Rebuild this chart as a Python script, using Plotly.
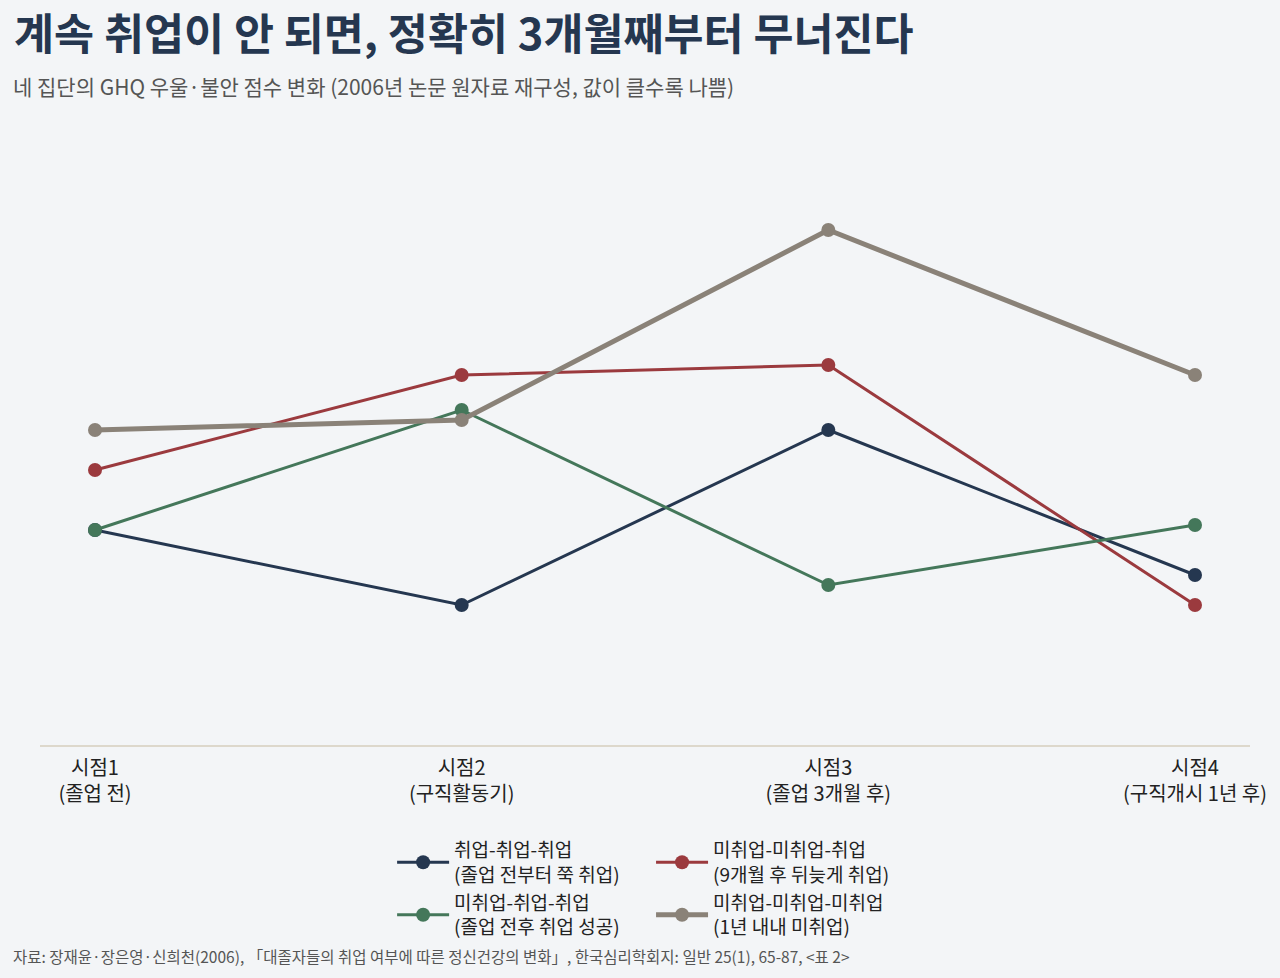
import plotly.graph_objects as go

# 시점 라벨
x_labels = ["시점1<br>(졸업 전)", "시점2<br>(구직활동기)", "시점3<br>(졸업 3개월 후)", "시점4<br>(구직개시 1년 후)"]

# 집단별 GHQ 점수 (그림에서 읽은 추정값)
group_names = [
    "취업-취업-취업<br>(졸업 전부터 쭉 취업)",
    "미취업-미취업-취업<br>(9개월 후 뒤늦게 취업)",
    "미취업-취업-취업<br>(졸업 전후 취업 성공)",
    "미취업-미취업-미취업<br>(1년 내내 미취업)",
]
ghq_emp_emp_emp = [1.43, 1.28, 1.63, 1.34]
ghq_un_un_emp = [1.55, 1.74, 1.76, 1.28]
ghq_un_emp_emp = [1.43, 1.67, 1.32, 1.44]
ghq_un_un_un = [1.63, 1.65, 2.03, 1.74]

colors = ["#253750", "#9b3a3e", "#44775a", "#8a8278"]
widths = [3, 3, 3, 5]
legends = ["legend", "legend2", "legend", "legend2"]
series = [ghq_emp_emp_emp, ghq_un_un_emp, ghq_un_emp_emp, ghq_un_un_un]

fig = go.Figure()
for name, vals, c, w, lg in zip(group_names, series, colors, widths, legends):
    fig.add_trace(go.Scatter(
        x=x_labels, y=vals, name=name, mode="lines+markers",
        line=dict(color=c, width=w),
        marker=dict(color=c, size=14),
        legend=lg,
    ))

legend_style = dict(
    orientation="v", yanchor="top", y=-0.140, xanchor="left",
    font=dict(size=19, color="#222222"), bgcolor="rgba(0,0,0,0)",
    tracegroupgap=2, itemwidth=52,
)

fig.update_layout(
    width=1280, height=978,
    paper_bgcolor="#f3f5f7", plot_bgcolor="#f3f5f7",
    font=dict(family="Noto Sans CJK KR", color="#222222", size=19),
    margin=dict(l=40, r=30, t=130, b=233),
    title=dict(
        text="<b>계속 취업이 안 되면, 정확히 3개월째부터 무너진다</b>",
        x=0.011, xanchor="left", xref="container",
        y=0.98, yanchor="top", yref="container",
        font=dict(size=43.5, color="#253750"),
    ),
    xaxis=dict(
        range=[-0.15, 3.15], showgrid=False, zeroline=False,
        showline=True, linecolor="#ddd8cc", linewidth=2,
        ticks="", tickfont=dict(size=20, color="#222222"),
        ticklabelstandoff=4,
    ),
    yaxis=dict(range=[1.0, 2.23], showgrid=False, zeroline=False,
               showticklabels=False, showline=False),
    legend=dict(legend_style, x=0.291),
    legend2=dict(legend_style, x=0.505),
    showlegend=True,
)

fig.add_annotation(
    text="네 집단의 GHQ 우울·불안 점수 변화 (2006년 논문 원자료 재구성, 값이 클수록 나쁨)",
    xref="paper", yref="paper", x=-0.024, y=1.072, xanchor="left", yanchor="middle",
    showarrow=False, font=dict(size=21, color="#555555"),
)
fig.add_annotation(
    text="자료: 장재윤·장은영·신희천(2006), 「대졸자들의 취업 여부에 따른 정신건강의 변화」, 한국심리학회지: 일반 25(1), 65-87, <표 2>",
    xref="paper", yref="paper", x=-0.024, y=-0.343, xanchor="left", yanchor="middle",
    showarrow=False, font=dict(size=15.5, color="#555555"),
)

fig.write_html("out.html", config={"displayModeBar": False},
               post_script="document.body.style.margin='0';")
